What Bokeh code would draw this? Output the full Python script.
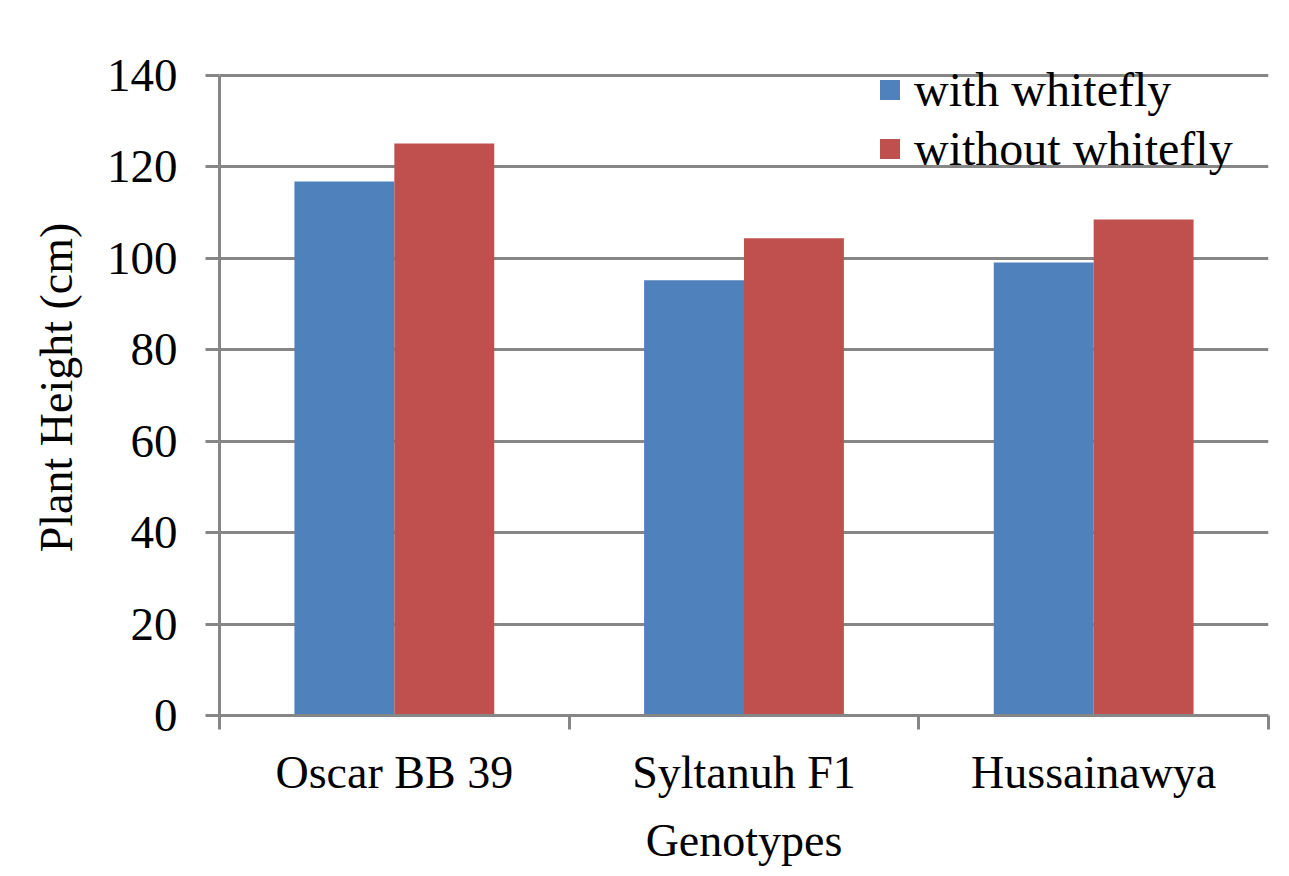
from bokeh.plotting import figure
from bokeh.models import ColumnDataSource, FixedTicker, Range1d, Legend, LegendItem
from bokeh.transform import dodge
from bokeh.embed import file_html
from bokeh.resources import INLINE

categories = ["Oscar BB 39", "Syltanuh F1", "Hussainawya"]
with_whitefly = [116.8, 95.2, 99.1]
without_whitefly = [125.1, 104.4, 108.5]
series_names = ["with whitefly", "without whitefly"]
y_ticks = [0, 20, 40, 60, 80, 100, 120, 140]

FONT = "Liberation Serif"
GRAY = "#868686"
BLUE = "#4F81BD"
RED = "#C0504D"

centers = [i + 0.5 for i in range(len(categories))]
src = ColumnDataSource(dict(x=centers, w=with_whitefly, wo=without_whitefly))

# frame extended 16px above the 140 line so the legend text is not clipped
y_top = 140 * 656 / 640
p = figure(frame_width=1049, frame_height=656, output_backend="svg", toolbar_location=None,
           x_range=Range1d(0, len(categories)), y_range=Range1d(0, y_top),
           min_border_left=219, min_border_right=5, min_border_top=59, min_border_bottom=0)
p.outline_line_color = None
p.background_fill_color = "white"

bw = 100 / 350
r1 = p.vbar(x=dodge("x", -bw / 2, range=p.x_range), top="w", width=bw, source=src,
            fill_color=BLUE, line_color=None)
r2 = p.vbar(x=dodge("x", bw / 2, range=p.x_range), top="wo", width=bw, source=src,
            fill_color=RED, line_color=None)

# y axis
p.yaxis.ticker = FixedTicker(ticks=y_ticks)
p.yaxis.bounds = (0, 140)
p.yaxis.axis_line_color = GRAY
p.yaxis.axis_line_width = 3
p.yaxis.major_tick_line_color = GRAY
p.yaxis.major_tick_line_width = 3
p.yaxis.major_tick_out = 14
p.yaxis.major_tick_in = 0
p.yaxis.minor_tick_line_color = None
p.yaxis.major_label_text_font = FONT
p.yaxis.major_label_text_font_size = "47px"
p.yaxis.major_label_text_color = "black"
p.yaxis.major_label_standoff = 28
p.yaxis.axis_label = "Plant Height (cm)"
p.yaxis.axis_label_text_font = FONT
p.yaxis.axis_label_text_font_size = "46px"
p.yaxis.axis_label_text_font_style = "normal"
p.yaxis.axis_label_text_color = "black"
p.yaxis.axis_label_standoff = 22

# x axis
p.xaxis.ticker = FixedTicker(ticks=centers, minor_ticks=list(range(len(categories) + 1)))
p.xaxis.major_label_overrides = {c: name for c, name in zip(centers, categories)}
p.xaxis.axis_line_color = GRAY
p.xaxis.axis_line_width = 3
p.xaxis.major_tick_line_color = None
p.xaxis.major_tick_out = 0
p.xaxis.major_tick_in = 0
p.xaxis.minor_tick_line_color = GRAY
p.xaxis.minor_tick_line_width = 3
p.xaxis.minor_tick_out = 14
p.xaxis.minor_tick_in = 0
p.xaxis.major_label_text_font = FONT
p.xaxis.major_label_text_font_size = "46px"
p.xaxis.major_label_text_color = "black"
p.xaxis.major_label_standoff = 17
p.xaxis.axis_label = "Genotypes"
p.xaxis.axis_label_text_font = FONT
p.xaxis.axis_label_text_font_size = "46px"
p.xaxis.axis_label_text_font_style = "normal"
p.xaxis.axis_label_text_color = "black"
p.xaxis.axis_label_standoff = 14

p.xgrid.grid_line_color = None
p.ygrid.ticker = FixedTicker(ticks=y_ticks)
p.ygrid.grid_line_color = GRAY
p.ygrid.grid_line_width = 3

legend = Legend(items=[LegendItem(label=series_names[0], renderers=[r1]),
                       LegendItem(label=series_names[1], renderers=[r2])],
                location=(658, 539))
legend.background_fill_alpha = 0
legend.border_line_color = None
legend.label_text_font = FONT
legend.label_text_font_size = "48px"
legend.label_text_color = "black"
legend.glyph_width = 25
legend.glyph_height = 25
legend.label_standoff = 12
legend.spacing = 4
legend.margin = 0
legend.padding = 2
p.add_layout(legend)

open("out.html", "w").write(file_html(p, INLINE))
